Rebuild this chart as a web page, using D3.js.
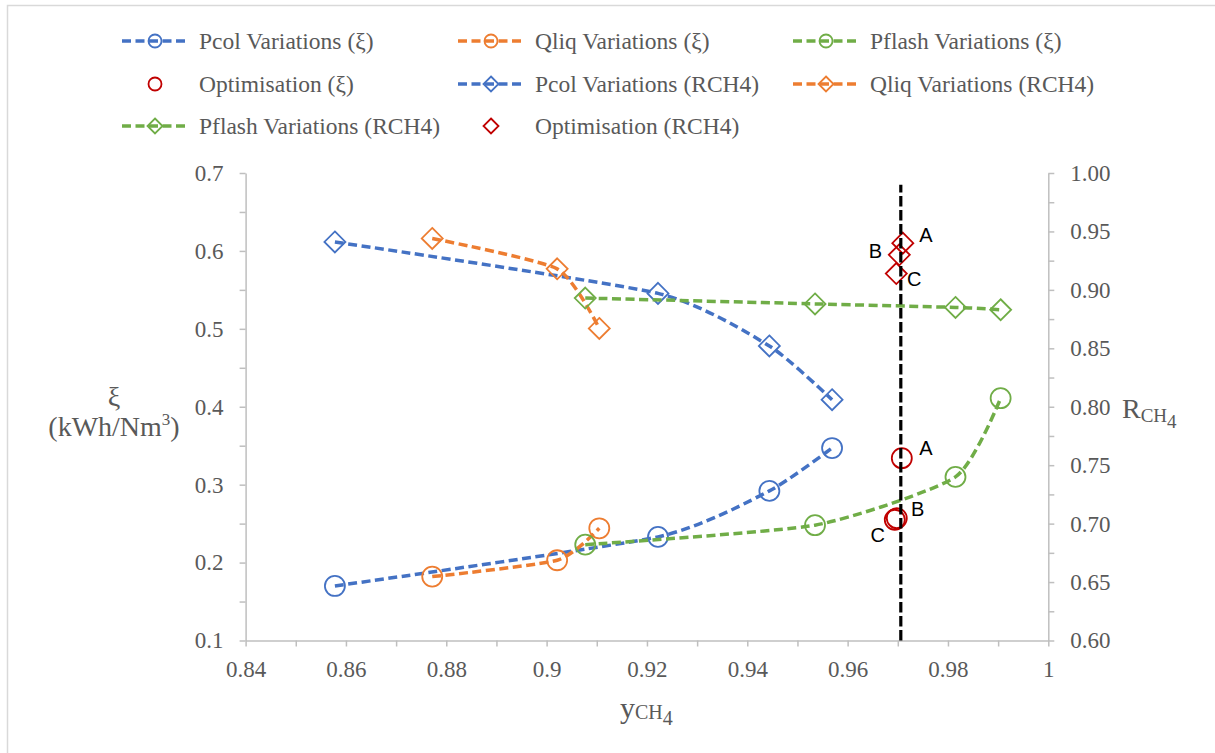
<!DOCTYPE html>
<html>
<head>
<meta charset="utf-8">
<script src="https://cdn.jsdelivr.net/npm/d3@7"></script>
<style>
  html, body { margin: 0; padding: 0; background: #fff; }
  svg { display: block; }
</style>
</head>
<body>
<svg id="chart" width="1215" height="753"></svg>
<script>
// ---- data: methane purity y_CH4 against specific energy ξ and recovery R_CH4 ----
const yPcol   = [0.8578, 0.9222, 0.9444, 0.9569];
const xiPcol  = [0.170, 0.233, 0.292, 0.347];
const rPcol   = [0.941, 0.897, 0.852, 0.806];

const yQliq   = [0.8772, 0.9021, 0.9105];
const xiQliq  = [0.182, 0.203, 0.244];
const rQliq   = [0.944, 0.918, 0.867];

const yPflash  = [0.9077, 0.9535, 0.9815, 0.9905];
const xiPflash = [0.223, 0.248, 0.310, 0.411];
const rPflash  = [0.893, 0.888, 0.885, 0.883];

const optNames = ["A", "B", "C"];
const yOptXi   = [0.9708, 0.9698, 0.9694];
const xiOpt    = [0.334, 0.257, 0.255];
const yOptR    = [0.9710, 0.9703, 0.9697];
const rOpt     = [0.940, 0.930, 0.914];

// vertical reference at the selected purity (drawn against the right axis)
const refY = [0.9706, 0.9706];
const refR = [0.60, 0.99];

const xTicks   = [0.84, 0.86, 0.88, 0.9, 0.92, 0.94, 0.96, 0.98, 1];
const xiTicks  = [0.1, 0.2, 0.3, 0.4, 0.5, 0.6, 0.7];
const rTicks   = [0.60, 0.65, 0.70, 0.75, 0.80, 0.85, 0.90, 0.95, 1.00];

// ---- styling ----
const C = { blue: "#4472C4", orange: "#ED7D31", green: "#70AD47", red: "#C00000", axis: "#BFBFBF", text: "#595959" };
const serif = '"Liberation Serif", "Times New Roman", serif';
const sans = '"Liberation Sans", Arial, sans-serif';

// label offsets (px) for the A/B/C annotations
const xiLabelOffset = [[24, -10], [21, -9], [-17, 15]];
const rLabelOffset  = [[23, -8], [-24, -4], [18, 5]];

const svg = d3.select("#chart");

// outer chart frame
svg.append("rect").attr("x", 7.5).attr("y", 5.5).attr("width", 1215).attr("height", 760)
  .attr("fill", "#fff").attr("stroke", "#D9D9D9").attr("stroke-width", 1.5);

const plot = { left: 245.6, right: 1048.3, top: 173, bottom: 640.5 };

const x = d3.scaleLinear().domain([0.84, 1]).range([plot.left, plot.right]);
const yL = d3.scaleLinear().domain([0.1, 0.7]).range([plot.bottom, plot.top]);
const yR = d3.scaleLinear().domain([0.6, 1.0]).range([plot.bottom, plot.top]);

// ---- axes ----
function styleAxis(g) {
  g.attr("font-family", serif).attr("font-size", 23);
  g.select(".domain").attr("stroke", C.axis).attr("stroke-width", 1.5);
  g.selectAll(".tick line").attr("stroke", C.axis).attr("stroke-width", 1.5);
  g.selectAll(".tick text").attr("fill", C.text);
}

const xMinor = d3.range(0.84, 1.0001, 0.01);
const xAxisG = svg.append("g").attr("transform", `translate(0,${plot.bottom})`)
  .call(d3.axisBottom(x).tickValues(xMinor).tickSize(6).tickSizeOuter(0)
    .tickFormat(d => xTicks.some(t => Math.abs(t - d) < 1e-6) ? d3.format("~g")(+d.toFixed(2)) : ""))
  .call(styleAxis);
xAxisG.selectAll(".tick text").attr("y", 20).attr("dy", "0.71em");

const xiMinor = d3.range(0.1, 0.7001, 0.05);
const yLAxisG = svg.append("g").attr("transform", `translate(${plot.left},0)`)
  .call(d3.axisLeft(yL).tickValues(xiMinor).tickSize(6).tickSizeOuter(0)
    .tickFormat(d => xiTicks.some(t => Math.abs(t - d) < 1e-6) ? (+d.toFixed(1)).toString() : ""))
  .call(styleAxis);
yLAxisG.selectAll(".tick text").attr("x", -22);

const rMinor = d3.range(0.6, 1.0001, 0.025);
const yRAxisG = svg.append("g").attr("transform", `translate(${plot.right},0)`)
  .call(d3.axisRight(yR).tickValues(rMinor).tickSize(6).tickSizeOuter(0)
    .tickFormat(d => rTicks.some(t => Math.abs(t - d) < 1e-6) ? d3.format(".2f")(d) : ""))
  .call(styleAxis);
yRAxisG.selectAll(".tick text").attr("x", 22);

// ---- axis titles ----
const leftTitle = svg.append("text").attr("font-family", serif).attr("fill", C.text)
  .attr("text-anchor", "middle").attr("font-size", 28);
leftTitle.append("tspan").attr("x", 114).attr("y", 406).text("ξ");
const lt2 = leftTitle.append("tspan").attr("x", 114).attr("y", 436);
lt2.append("tspan").text("(kWh/Nm");
lt2.append("tspan").attr("font-size", 17).attr("dy", -11).text("3");
lt2.append("tspan").attr("dy", 11).text(")");

const rightTitle = svg.append("text").attr("font-family", serif).attr("fill", C.text)
  .attr("x", 1122).attr("y", 418).attr("font-size", 28);
rightTitle.append("tspan").text("R");
rightTitle.append("tspan").attr("font-size", 19).attr("dy", 4).text("CH");
rightTitle.append("tspan").attr("font-size", 19).attr("dy", 6).text("4");

const bottomTitle = svg.append("text").attr("font-family", serif).attr("fill", C.text)
  .attr("x", 620).attr("y", 718).attr("font-size", 30);
bottomTitle.append("tspan").text("y");
bottomTitle.append("tspan").attr("font-size", 20).attr("dy", 1).text("CH");
bottomTitle.append("tspan").attr("font-size", 20).attr("dy", 6).text("4");

// ---- series ----
const DASH = "9,4.5";
const lineGen = d3.line().curve(d3.curveCardinal.tension(0.4));

function zip(xs, ys) { return xs.map((v, i) => [v, ys[i]]); }

function circleMarker(g, cx, cy, r, color) {
  g.append("circle").attr("cx", cx).attr("cy", cy).attr("r", r)
    .attr("fill", "none").attr("stroke", color).attr("stroke-width", 1.8);
}
function diamondMarker(g, cx, cy, h, color) {
  g.append("path").attr("d", `M${cx},${cy - h}L${cx + h},${cy}L${cx},${cy + h}L${cx - h},${cy}Z`)
    .attr("fill", "none").attr("stroke", color).attr("stroke-width", 1.8);
}

const series = [
  { name: "Pcol Variations (ξ)",     xs: yPcol,   ys: xiPcol,   scale: yL, color: C.blue,   marker: "circle",  line: true },
  { name: "Qliq Variations (ξ)",     xs: yQliq,   ys: xiQliq,   scale: yL, color: C.orange, marker: "circle",  line: true },
  { name: "Pflash Variations (ξ)",   xs: yPflash, ys: xiPflash, scale: yL, color: C.green,  marker: "circle",  line: true },
  { name: "Optimisation (ξ)",        xs: yOptXi,  ys: xiOpt,    scale: yL, color: C.red,    marker: "circle",  line: false },
  { name: "Pcol Variations (RCH4)",  xs: yPcol,   ys: rPcol,    scale: yR, color: C.blue,   marker: "diamond", line: true },
  { name: "Qliq Variations (RCH4)",  xs: yQliq,   ys: rQliq,    scale: yR, color: C.orange, marker: "diamond", line: true },
  { name: "Pflash Variations (RCH4)",xs: yPflash, ys: rPflash,  scale: yR, color: C.green,  marker: "diamond", line: true },
  { name: "Optimisation (RCH4)",     xs: yOptR,   ys: rOpt,     scale: yR, color: C.red,    marker: "diamond", line: false }
];

const marks = svg.append("g");
series.forEach(s => {
  const g = marks.append("g");
  const pts = zip(s.xs, s.ys).map(([a, b]) => [x(a), s.scale(b)]);
  if (s.line) {
    g.append("path").attr("d", lineGen(pts)).attr("fill", "none")
      .attr("stroke", s.color).attr("stroke-width", 3.5).attr("stroke-dasharray", DASH);
  }
  pts.forEach(([px, py]) => {
    if (s.marker === "circle") circleMarker(g, px, py, 10, s.color);
    else diamondMarker(g, px, py, 10.5, s.color);
  });
});

// vertical reference line
svg.append("path").attr("d", d3.line()(zip(refY, refR).map(([a, b]) => [x(a), yR(b)])))
  .attr("fill", "none").attr("stroke", "#000").attr("stroke-width", 3.2)
  .attr("stroke-dasharray", "10.5,3.5");

// A/B/C annotations
const ann = svg.append("g").attr("font-family", sans).attr("font-size", 20).attr("fill", "#000")
  .attr("text-anchor", "middle").attr("dominant-baseline", "central");
optNames.forEach((n, i) => {
  ann.append("text").attr("x", x(yOptXi[i]) + xiLabelOffset[i][0]).attr("y", yL(xiOpt[i]) + xiLabelOffset[i][1]).text(n);
  ann.append("text").attr("x", x(yOptR[i]) + rLabelOffset[i][0]).attr("y", yR(rOpt[i]) + rLabelOffset[i][1]).text(n);
});

// ---- legend ----
const legendCols = [122, 458, 793];
const legendRows = [41, 84, 126];
const legend = svg.append("g");
series.forEach((s, i) => {
  const lx = legendCols[i % 3], ly = legendRows[Math.floor(i / 3)];
  const g = legend.append("g");
  if (s.line) {
    g.append("line").attr("x1", lx).attr("x2", lx + 65).attr("y1", ly).attr("y2", ly)
      .attr("stroke", s.color).attr("stroke-width", 3.5).attr("stroke-dasharray", DASH);
  }
  if (s.marker === "circle") circleMarker(g, lx + 33, ly, 6.5, s.color);
  else diamondMarker(g, lx + 33, ly, 7.5, s.color);
  g.append("text").attr("x", lx + 77).attr("y", ly).attr("dy", "0.33em")
    .attr("font-family", serif).attr("font-size", 23.5).attr("fill", C.text).text(s.name);
});
</script>
</body>
</html>
